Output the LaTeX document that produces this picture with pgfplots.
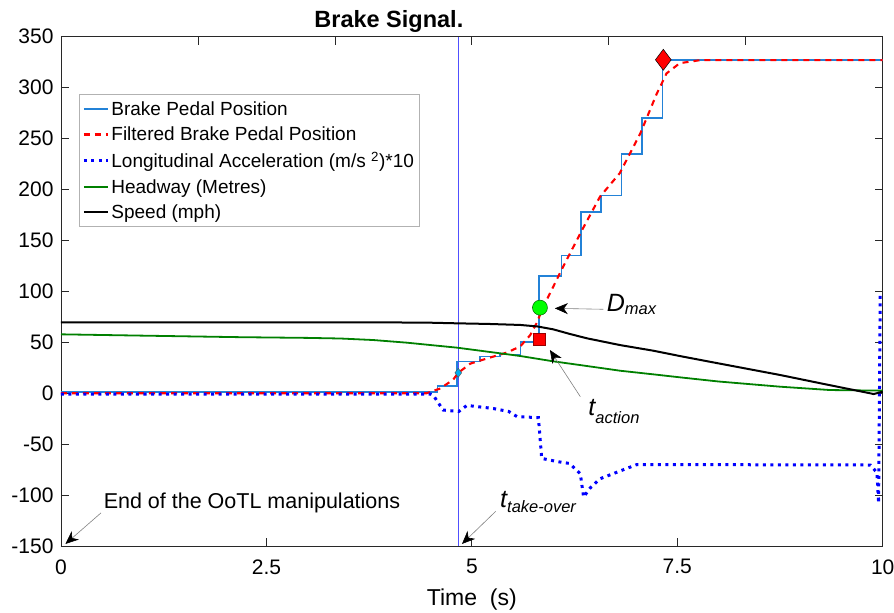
\documentclass[border=0pt]{standalone}
\usepackage{fontspec}
\setmainfont{Liberation Sans}
\usepackage{pgfplots}
\pgfplotsset{compat=1.18}
\usetikzlibrary{arrows.meta}
\definecolor{pedal}{RGB}{35,130,215}
\definecolor{vline}{RGB}{80,80,255}
\definecolor{hw}{RGB}{0,128,0}
\definecolor{axgray}{RGB}{40,40,40}
\begin{document}
\begin{tikzpicture}
\begin{axis}[name=ax, scale only axis, width=821.7pt, height=509.3pt,
  xmin=0, xmax=10, ymin=-150, ymax=350,
  xtick={0,2.5,5,7.5,10}, ytick={-150,-100,...,350},
  xtick pos=lower, ytick pos=both, tick align=inside, major tick length=8pt,
  axis line style={axgray, line width=0.8pt},
  every tick/.style={axgray, line width=0.8pt},
  /pgf/number format/assume math mode=true,
  ticklabel style={font=\fontsize{21}{21}\selectfont},
  xticklabel style={yshift=-10pt},
  yticklabel style={xshift=-4pt},
  xlabel={Time\ \ (s)},
  xlabel style={font=\fontsize{23}{23}\selectfont, at={(axis description cs:0.5,0)},
    anchor=north, inner sep=0pt, yshift=-43pt},
  clip=false,
  legend style={at={(0.0219,0.887)}, anchor=north west, draw=gray!60, line width=0.8pt,
    font=\fontsize{19}{22}\selectfont, inner xsep=3pt, inner ysep=5pt, row sep=6pt,
    cells={anchor=west}},
  legend image code/.code={\draw[#1] (0pt,0pt) -- (24pt,0pt);},
]
\coordinate (sw) at (rel axis cs:0,0);
\coordinate (ne) at (rel axis cs:1,1);
\addplot[vline, line width=1pt, forget plot] coordinates {(4.835,-150) (4.835,350)};

\addplot[pedal, line width=1.6pt, const plot mark left] coordinates {
(0,1) (4.58,7) (4.82,31) (5.10,36) (5.34,38) (5.59,50) (5.75,57) (5.82,115)
(6.09,135) (6.33,178) (6.57,194) (6.82,235) (7.07,270) (7.32,327) (10,327)};
\addlegendentry{Brake Pedal Position}

\addplot[red, line width=2.1pt, dash pattern=on 6pt off 5pt] coordinates {
(0,0) (4.45,0) (4.61,4.5) (4.77,13) (4.835,20) (4.98,29) (5.18,34) (5.43,40)
(5.59,46) (5.71,57) (5.79,69) (5.87,85) (6.11,124) (6.34,160) (6.56,193)
(6.80,216) (7.05,255) (7.25,294) (7.37,314) (7.53,324) (7.78,327) (10,327)};
\addlegendentry{Filtered Brake Pedal Position}

\addplot[blue, line width=3pt, dash pattern=on 3pt off 4.5pt] coordinates {
(0,-1) (4.50,-1) (4.53,-2) (4.65,-16.5) (4.84,-18) (4.94,-12) (5.26,-15) (5.45,-18)
(5.55,-23) (5.81,-24) (5.85,-64) (6.03,-67) (6.19,-69) (6.32,-79) (6.36,-102)
(6.44,-93) (6.56,-84) (6.88,-74) (7.01,-70) (9.85,-70.5) (9.93,-78) (9.95,-108) (9.97,98)};
\addlegendentry{Longitudinal Acceleration (m/s \textsuperscript{2})*10}

\addplot[hw, line width=1.8pt] coordinates {
(0,57.8) (1,56.5) (2.18,55) (3.0,54.3) (3.40,53.7) (3.80,52.2) (4.21,49.6) (4.37,48.3)
(4.82,44.7) (5.34,39.2) (5.59,36.5) (5.99,31.3) (6.40,26.7) (6.80,22.1) (7.21,18.5)
(7.53,15.6) (8.0,11.5) (8.75,6.4) (9.36,3.1) (10,2.5)};
\addlegendentry{Headway (Metres)}

\addplot[black, line width=2pt] coordinates {
(0,69.6) (4.0,69.5) (4.5,69.2) (4.82,68.6) (5.2,68) (5.59,67) (5.8,65.5) (5.99,62.7)
(6.2,58) (6.40,53.9) (6.80,47.3) (7.21,41.7) (7.53,36.5) (8.0,29.3) (8.75,17.9)
(9.3,8.8) (9.89,-0.8) (10,1.5)};
\addlegendentry{Speed (mph)}

\addplot[forget plot, only marks, mark=diamond*, mark size=4.5pt,
  mark options={fill=cyan, draw=black!70, line width=0.4pt}] coordinates {(4.835,20)};
\addplot[forget plot, only marks, mark=*, mark size=7.5pt,
  mark options={fill=green, draw=black!60!green, line width=0.5pt}] coordinates {(5.829,84)};
\addplot[forget plot, only marks, mark=square*, mark size=6.2pt,
  mark options={fill=red, draw=red!60!black, line width=0.4pt}] coordinates {(5.82,53)};
\addplot[forget plot, only marks, mark=diamond*, mark size=10.5pt,
  mark options={fill=red, draw=black, line width=0.5pt}] coordinates {(7.33,327.3)};

\node[anchor=base, font=\fontsize{23.5}{23.5}\selectfont\bfseries, yshift=9pt]
  at (axis cs:3.99,350) {Brake Signal.};

\draw[gray, line width=0.6pt, -{Stealth[length=13pt,width=11pt,inset=4pt,black]}]
  (axis cs:6.60,82.4) -- (axis cs:6.01,83.3);
\node[anchor=base west, inner sep=0pt] at (axis cs:6.64,80)
  {\fontsize{25}{25}\selectfont\itshape D\raisebox{-3pt}{\fontsize{16.5}{16.5}\selectfont max}};

\draw[gray, line width=0.6pt, -{Stealth[length=13pt,width=11pt,inset=4pt,black]}]
  (axis cs:6.32,-3.4) -- (axis cs:5.95,42.4);
\node[anchor=base west, inner sep=0pt] at (axis cs:6.417,-21.4)
  {\fontsize{25}{25}\selectfont\itshape t\raisebox{-8pt}{\fontsize{16.5}{16.5}\selectfont action}};

\draw[gray, line width=0.6pt, -{Stealth[length=13pt,width=11pt,inset=4pt,black]}]
  (axis cs:5.29,-116) -- (axis cs:4.88,-148);
\node[anchor=base west, inner sep=0pt] at (axis cs:5.343,-112)
  {\fontsize{25}{25}\selectfont\itshape t\raisebox{-5pt}{\fontsize{16.5}{16.5}\selectfont take-over}};

\draw[gray, line width=0.6pt, -{Stealth[length=13pt,width=11pt,inset=4pt,black]}]
  (axis cs:0.487,-117.5) -- (axis cs:0.054,-148);
\node[anchor=base west, inner sep=0pt, font=\fontsize{21.5}{21.5}\selectfont]
  at (axis cs:0.518,-113) {End of the OoTL manipulations};
\end{axis}
\begin{axis}[scale only axis, width=821.7pt, height=509.3pt,
  at={(sw)}, anchor=south west,
  xmin=0, xmax=10, ymin=-150, ymax=350,
  axis x line*=top, axis y line=none,
  xtick={1.6667,3.3333,5,6.6667,8.3333}, xticklabels={},
  tick align=inside, major tick length=8pt,
  axis line style={draw=none},
  every tick/.style={axgray, line width=0.8pt}]
\end{axis}
\pgfresetboundingbox
\path[use as bounding box] ([xshift=-61pt,yshift=-67pt]sw) rectangle ([xshift=11.3pt,yshift=36.7pt]ne);
\end{tikzpicture}
\end{document}
